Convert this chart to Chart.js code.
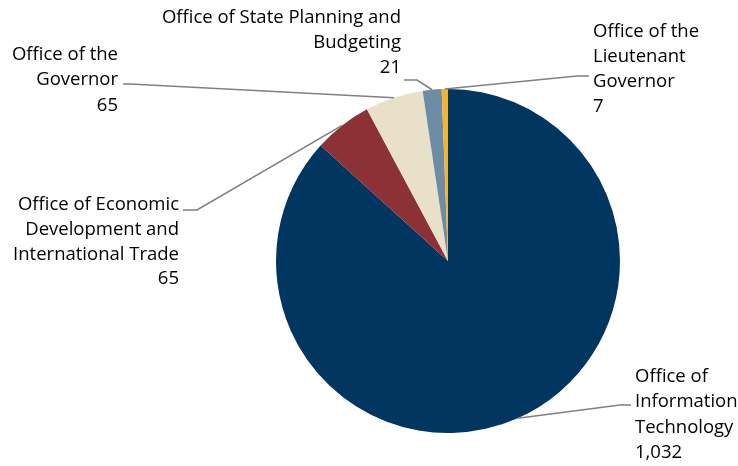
<!DOCTYPE html>
<html>
<head>
<meta charset="utf-8">
<script src="https://cdn.jsdelivr.net/npm/chart.js@4"></script>
<style>
  html, body { margin: 0; padding: 0; background: #ffffff; }
  #wrap { width: 738px; height: 466px; position: relative; }
</style>
</head>
<body>
<div id="wrap"><canvas id="c" width="738" height="466"></canvas></div>
<script>
// Offices and their counts, clockwise from 12 o'clock
const offices = [
  ['Office of', 'Information', 'Technology'],
  ['Office of Economic', 'Development and', 'International Trade'],
  ['Office of the', 'Governor'],
  ['Office of State Planning and', 'Budgeting'],
  ['Office of the', 'Lieutenant', 'Governor']
];
const counts = [1032, 65, 65, 21, 7];
const sliceColors = ['#003660', '#8C3236', '#E8E0C8', '#6E8CA4', '#F5B334'];

// Callout layout: label anchor, text alignment, elbow point of the leader line, and line centres
const callouts = [
  { align: 'left',  x: 635, lines: [375, 400, 426, 451], elbow: [620, 405], end: [631, 405] },
  { align: 'right', x: 179, lines: [203, 228, 253, 277], elbow: [197, 210], end: [183, 210] },
  { align: 'right', x: 118, lines: [53, 78, 104],        elbow: [130, 84],  end: [123, 84] },
  { align: 'right', x: 401, lines: [16, 41, 66],         elbow: [417, 80],  end: [404, 80] },
  { align: 'left',  x: 593, lines: [30, 55, 80, 105],    elbow: [577, 76],  end: [589, 76] }
];

const FONT = '18.5px "Open Sans", Lato, sans-serif';

const calloutPlugin = {
  id: 'callouts',
  afterDatasetsDraw(chart) {
    const ctx = chart.ctx;
    const meta = chart.getDatasetMeta(0);
    ctx.save();
    meta.data.forEach((arc, i) => {
      const p = arc.getProps(['x', 'y', 'startAngle', 'endAngle', 'outerRadius'], true);
      const mid = (p.startAngle + p.endAngle) / 2;
      const ax = p.x + Math.cos(mid) * p.outerRadius;
      const ay = p.y + Math.sin(mid) * p.outerRadius;
      const c = callouts[i];
      ctx.strokeStyle = '#808080';
      ctx.lineWidth = 1.6;
      ctx.beginPath();
      ctx.moveTo(ax, ay);
      ctx.lineTo(c.elbow[0], c.elbow[1]);
      ctx.lineTo(c.end[0], c.end[1]);
      ctx.stroke();

      const text = offices[i].concat([counts[i].toLocaleString('en-US')]);
      ctx.fillStyle = '#000000';
      ctx.font = FONT;
      ctx.textAlign = c.align;
      ctx.textBaseline = 'alphabetic';
      text.forEach((t, k) => ctx.fillText(t, c.x, c.lines[k] + 6.5));
    });
    ctx.restore();
  }
};

new Chart(document.getElementById('c'), {
  type: 'pie',
  data: {
    labels: offices.map(l => l.join(' ')),
    datasets: [{
      data: counts,
      backgroundColor: sliceColors,
      borderWidth: 0
    }]
  },
  options: {
    responsive: false,
    animation: false,
    layout: { padding: { left: 276, right: 118, top: 89, bottom: 33 } },
    plugins: {
      legend: { display: false },
      tooltip: { enabled: false }
    }
  },
  plugins: [calloutPlugin]
});
</script>
</body>
</html>
